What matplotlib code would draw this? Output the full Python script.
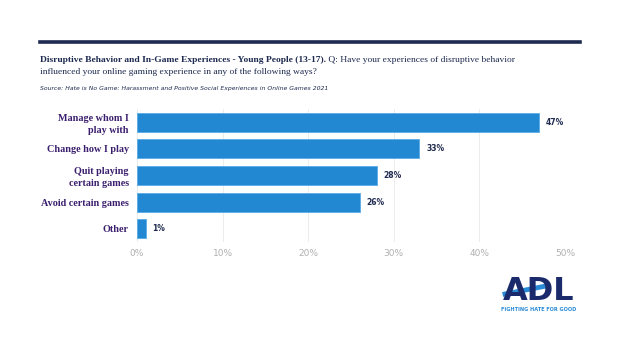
import matplotlib.pyplot as plt
from matplotlib.lines import Line2D

categories = ["Manage whom I\nplay with", "Change how I play", "Quit playing\ncertain games",
              "Avoid certain games", "Other"]
values = [47, 33, 28, 26, 1]
xticks = [0, 10, 20, 30, 40, 50]

navy = "#1e2a4f"
purple = "#3b1f6e"
blue = "#2288d2"
serif = "Liberation Serif"

fig = plt.figure(figsize=(6.2, 3.5), dpi=100)
ax = fig.add_axes([137 / 620, 1 - 242 / 350, (565 - 137) / 620, 133 / 350])

y = list(range(len(categories)))
ax.barh(y, values, height=0.72, color=blue, edgecolor="#5aaae6", linewidth=0.6, zorder=2)
for yi, v in zip(y, values):
    ax.text(v + 0.8, yi, f"{v}%", va="center", ha="left", fontsize=5.5,
            fontweight="bold", color=navy)

ax.set_xlim(0, 50)
ax.set_ylim(len(categories) - 0.5, -0.5)
ax.set_yticks(y)
ax.set_yticklabels(categories, family=serif, fontweight="bold",
                   fontsize=7.3, color=purple, linespacing=1.35)
ax.set_xticks(xticks)
ax.set_xticklabels([f"{t}%" for t in xticks], fontsize=6.5, color="#b0b0b0")
ax.tick_params(axis="y", length=0, pad=6)
ax.tick_params(axis="x", length=0, pad=5)
ax.grid(axis="x", color="#ececec", linewidth=0.7, zorder=0)
for s in ax.spines.values():
    s.set_visible(False)

# header rule
fig.add_artist(Line2D([40 / 620, 580 / 620], [1 - 42 / 350] * 2, color=navy, linewidth=2.6))

t1 = fig.text(40 / 620, 1 - 62 / 350, "Disruptive Behavior and In-Game Experiences - Young People (13-17).",
              family=serif, fontweight="bold", fontsize=6.8, color=navy, va="baseline")
fig.add_artist(plt.Annotation(" Q: Have your experiences of disruptive behavior",
                              xy=(1, 0), xycoords=t1, va="bottom",
                              family=serif, fontsize=6.8, color=navy))
fig.text(40 / 620, 1 - 74 / 350, "influenced your online gaming experience in any of the following ways?",
         family=serif, fontsize=6.8, color=navy, va="baseline")
fig.text(40 / 620, 1 - 90 / 350,
         "Source: Hate is No Game: Harassment and Positive Social Experiences in Online Games 2021",
         fontsize=4.4, style="italic", color=navy, va="baseline")

# logo
fig.text(539 / 620, 1 - 300 / 350, "ADL", fontsize=23, fontweight="bold", color="#1b2a6b",
         ha="center", va="baseline")
fig.add_artist(Line2D([505 / 620, 546 / 620], [1 - 294 / 350, 1 - 286 / 350],
                      color="#2a8ad6", linewidth=3.5))
fig.text(539 / 620, 1 - 311 / 350, "FIGHTING HATE FOR GOOD", fontsize=3.6, fontweight="bold",
         color="#2a8ad6", ha="center", va="baseline")

fig.savefig("out.png", dpi=100)
